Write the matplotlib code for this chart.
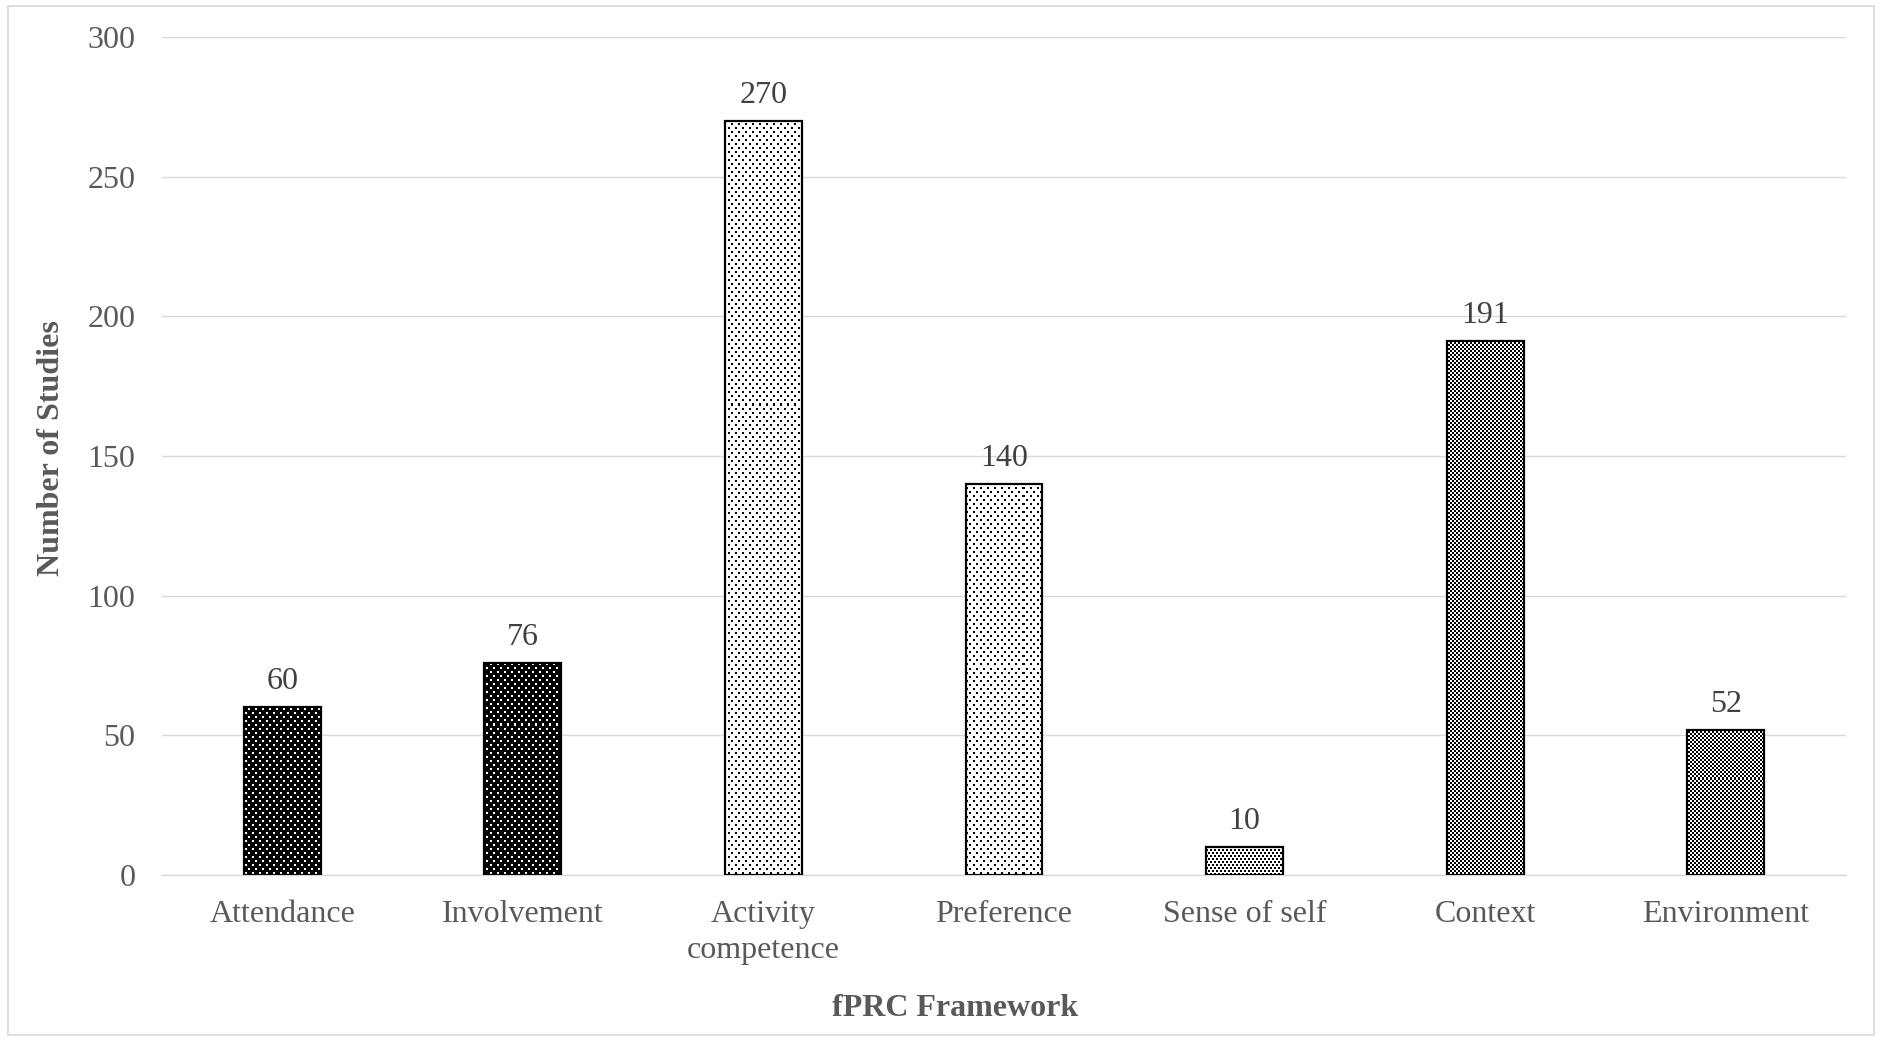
import numpy as np
import matplotlib
matplotlib.use("Agg")
import matplotlib.pyplot as plt
from matplotlib.patches import Rectangle

# Data
categories = ["Attendance", "Involvement", "Activity\ncompetence", "Preference",
              "Sense of self", "Context", "Environment"]
counts = [60, 76, 270, 140, 10, 191, 52]
fills = ["dark_dots", "dark_dots", "light_dots", "light_dots",
         "dense_dots", "checker", "checker"]
y_ticks = [0, 50, 100, 150, 200, 250, 300]

W, H, DPI = 1882, 1041, 100
FS = 23
plt.rcParams["font.family"] = ["Liberation Serif", "DejaVu Serif"]

fig = plt.figure(figsize=(W / DPI, H / DPI), dpi=DPI)
fig.patch.set_facecolor("white")
ax = fig.add_axes([162 / W, 166 / H, 1684 / W, 838 / H])

x = np.arange(len(categories))
bars = ax.bar(x, counts, width=0.32, facecolor="none", edgecolor="black",
              linewidth=1.6, zorder=3)

ax.set_xlim(-0.5, len(categories) - 0.5)
ax.set_ylim(0, 300)
ax.set_yticks(y_ticks)
ax.set_xticks(x)
ax.set_xticklabels(categories, linespacing=1.32)
ax.grid(axis="y", color="#d9d9d9", linewidth=1.0, zorder=0)
ax.set_axisbelow(True)
for s in ["top", "right", "left"]:
    ax.spines[s].set_visible(False)
ax.spines["bottom"].set_color("#d9d9d9")
ax.spines["bottom"].set_linewidth(1.0)
ax.tick_params(axis="both", length=0, labelsize=FS, labelcolor="#595959")
ax.tick_params(axis="y", pad=19)
ax.tick_params(axis="x", pad=18)


def tile(kind, rows, cols):
    """Binary fill pattern (1 = black) indexed by absolute pixel position."""
    r = rows[:, None]
    c = cols[None, :]
    if kind in ("dark_dots", "light_dots"):
        rr = r % 8
        cc = c % 7
        dot = (((rr < 2) & (cc < 2)) | ((rr >= 4) & (rr < 6) & (cc >= 3) & (cc < 5)))
        return ~dot if kind == "dark_dots" else dot
    if kind == "dense_dots":
        rr = r % 6
        cc = c % 4
        return ((rr < 2) & (cc < 2)) | ((rr >= 3) & (rr < 5) & (cc >= 2))
    # checkerboard of 2 px squares
    return ((r // 2) + (c // 2)) % 2 == 0


fig.canvas.draw()
inv = ax.transData.inverted()
for bar, kind in zip(bars, fills):
    x0, y0 = bar.get_x(), bar.get_y()
    x1, y1 = x0 + bar.get_width(), y0 + bar.get_height()
    (px0, py0), (px1, py1) = ax.transData.transform([(x0, y0), (x1, y1)])
    px0, px1 = np.floor(px0), np.ceil(px1)
    py0, py1 = np.floor(py0), np.ceil(py1)
    cols = np.arange(int(px0), int(px1))
    rows = np.arange(int(H - py1), int(H - py0))
    pat = tile(kind, rows, cols)
    img = np.where(pat[..., None], 0.0, 1.0) * np.ones(3)
    (ex0, ey0), (ex1, ey1) = inv.transform([(px0, py0), (px1, py1)])
    im = ax.imshow(img, extent=(ex0, ex1, ey0, ey1), origin="upper",
                   interpolation="nearest", aspect="auto", zorder=2)
    im.set_clip_path(bar)

ax.set_xlim(-0.5, len(categories) - 0.5)
ax.set_ylim(0, 300)

for bar, v in zip(bars, counts):
    ax.annotate(str(v), (bar.get_x() + bar.get_width() / 2, v),
                xytext=(0, 8), textcoords="offset points",
                ha="center", va="bottom", fontsize=FS, color="#404040")

fig.text(52 / W, 1 - 448 / H, "Number of Studies", rotation=90,
         ha="center", va="center", fontsize=FS, fontweight="bold", color="#595959")
fig.text(955 / W, 1 - 1008 / H, "fPRC Framework",
         ha="center", va="center", fontsize=FS, fontweight="bold", color="#595959")

fig.add_artist(Rectangle((8 / W, 6 / H), 1866 / W, 1029 / H,
                         transform=fig.transFigure, fill=False,
                         edgecolor="#d9d9d9", linewidth=1.2))

fig.savefig("out.png", dpi=DPI, facecolor="white")
